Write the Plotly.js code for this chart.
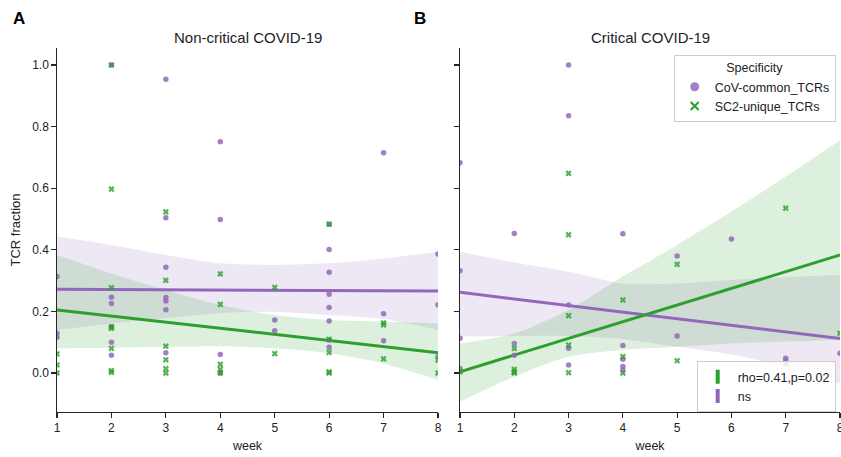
<!DOCTYPE html>
<html><head><meta charset="utf-8">
<script src="https://cdn.plot.ly/plotly-3.0.1.min.js"></script>
<style>html,body{margin:0;padding:0;background:#fff}#chart{width:841px;height:457px}</style>
</head><body><div id="chart"></div>
<script>
// ---------- data ----------
const weeks = [1, 2, 3, 4, 5, 6, 7, 8];
const fitWeeks = [1, 8];
const yTicks = [0, 0.2, 0.4, 0.6, 0.8, 1.0];
const seriesNames = ['CoV-common_TCRs', 'SC2-unique_TCRs'];
const statLabels = ['rho=0.41,p=0.02', 'ns'];
const panelTitles = ['Non-critical COVID-19', 'Critical COVID-19'];
const panelLetters = ['A', 'B'];

// Non-critical COVID-19, CoV-common TCRs
const ncCommonWeek = [1,1,1, 2,2,2,2,2,2, 3,3,3,3,3,3,3, 4,4,4,4, 5,5, 6,6,6,6,6,6,6,6, 7,7,7, 8,8,8];
const ncCommonFrac = [0.313,0.129,0.116, 1.0,0.246,0.226,0.150,0.100,0.058, 0.954,0.504,0.343,0.245,0.234,0.205,0.066, 0.751,0.498,0.060,0.0, 0.172,0.137, 0.483,0.401,0.327,0.256,0.213,0.169,0.107,0.084, 0.715,0.192,0.105, 0.386,0.222,0.053];
// Non-critical COVID-19, SC2-unique TCRs
const ncUniqueWeek = [1,1,1, 2,2,2,2,2,2,2,2, 3,3,3,3,3,3, 4,4,4,4,4, 5,5, 6,6,6,6,6, 7,7,7, 8,8];
const ncUniqueFrac = [0.062,0.026,0.0, 1.0,0.597,0.277,0.150,0.145,0.080,0.008,0.002, 0.523,0.301,0.087,0.043,0.014,0.0, 0.322,0.223,0.028,0.012,0.0, 0.278,0.063, 0.483,0.109,0.067,0.004,0.0, 0.163,0.156,0.046, 0.042,0.0];
// Critical COVID-19, CoV-common TCRs
const crCommonWeek = [1,1,1,1, 2,2,2, 3,3,3,3,3, 4,4,4,4,4, 5,5, 6, 7,7, 8];
const crCommonFrac = [0.683,0.332,0.113,0.015, 0.453,0.096,0.058, 1.0,0.835,0.221,0.080,0.026, 0.452,0.089,0.045,0.021,0.010, 0.380,0.120, 0.435, 0.048,0.040, 0.064];
// Critical COVID-19, SC2-unique TCRs
const crUniqueWeek = [1, 2,2,2,2, 3,3,3,3,3, 4,4,4, 5,5, 7,7, 8];
const crUniqueFrac = [0.004, 0.080,0.012,0.004,0.0, 0.648,0.449,0.186,0.091,0.001, 0.237,0.053,0.0, 0.353,0.040, 0.535,0.029, 0.129];

// Regression fits (values at week 1 and week 8)
const ncCommonFit = [0.272, 0.266];
const ncUniqueFit = [0.205, 0.066];
const crCommonFit = [0.262, 0.112];
const crUniqueFit = [0.004, 0.383];

// 95% confidence bands at each week
const ncCommonUpper = [0.443, 0.416, 0.383, 0.356, 0.351, 0.356, 0.372, 0.394];
const ncCommonLower = [0.140, 0.161, 0.178, 0.194, 0.199, 0.188, 0.175, 0.140];
const ncUniqueUpper = [0.383, 0.323, 0.269, 0.221, 0.188, 0.172, 0.167, 0.161];
const ncUniqueLower = [0.080, 0.082, 0.085, 0.087, 0.080, 0.064, 0.031, -0.023];
const crCommonUpper = [0.394, 0.359, 0.329, 0.291, 0.291, 0.302, 0.311, 0.318];
const crCommonLower = [0.118, 0.120, 0.120, 0.110, 0.085, 0.060, 0.020, -0.034];
const crUniqueUpper = [0.096, 0.128, 0.205, 0.313, 0.416, 0.524, 0.638, 0.756];
const crUniqueLower = [-0.093, -0.012, 0.053, 0.075, 0.085, 0.096, 0.102, 0.107];

// ---------- styles ----------
const PURPLE = '#9467bd';
const GREEN = '#2ca02c';
const PURPLE_BAND = 'rgba(148,103,189,0.16)';
const GREEN_BAND = 'rgba(44,160,44,0.16)';
const FONT = 'Liberation Sans, Arial, sans-serif';
const INK = '#222222';
const AXIS = '#262626';

function band(lower, upper, fill, xa, ya) {
  return [
    {x: weeks, y: lower, xaxis: xa, yaxis: ya, mode: 'lines', line: {width: 0, shape: 'spline', smoothing: 0.8},
     hoverinfo: 'skip', showlegend: false},
    {x: weeks, y: upper, xaxis: xa, yaxis: ya, mode: 'lines', line: {width: 0, shape: 'spline', smoothing: 0.8},
     fill: 'tonexty', fillcolor: fill, hoverinfo: 'skip', showlegend: false}
  ];
}
function fit(vals, color, xa, ya) {
  return {x: fitWeeks, y: vals, xaxis: xa, yaxis: ya, mode: 'lines', line: {color: color, width: 3}, showlegend: false};
}
function pts(wk, fr, kind, xa, ya) {
  const common = kind === 0;
  return {x: wk, y: fr, xaxis: xa, yaxis: ya, mode: 'markers', showlegend: false, name: seriesNames[kind],
    marker: common ? {symbol: 'circle', size: 5.5, color: PURPLE, opacity: 0.85}
                   : {symbol: 'x', size: 5.5, color: GREEN, opacity: 0.8}};
}

const traces = [
  ...band(ncCommonLower, ncCommonUpper, PURPLE_BAND, 'x', 'y'),
  ...band(ncUniqueLower, ncUniqueUpper, GREEN_BAND, 'x', 'y'),
  ...band(crCommonLower, crCommonUpper, PURPLE_BAND, 'x2', 'y2'),
  ...band(crUniqueLower, crUniqueUpper, GREEN_BAND, 'x2', 'y2'),
  fit(ncCommonFit, PURPLE, 'x', 'y'),
  fit(ncUniqueFit, GREEN, 'x', 'y'),
  fit(crCommonFit, PURPLE, 'x2', 'y2'),
  fit(crUniqueFit, GREEN, 'x2', 'y2'),
  pts(ncCommonWeek, ncCommonFrac, 0, 'x', 'y'),
  pts(ncUniqueWeek, ncUniqueFrac, 1, 'x', 'y'),
  pts(crCommonWeek, crCommonFrac, 0, 'x2', 'y2'),
  pts(crUniqueWeek, crUniqueFrac, 1, 'x2', 'y2'),
  // legend entries
  {x: [null], y: [null], xaxis: 'x2', yaxis: 'y2', mode: 'markers', name: seriesNames[0], legend: 'legend',
   marker: {symbol: 'circle', size: 9, color: PURPLE, opacity: 0.85}},
  {x: [null], y: [null], xaxis: 'x2', yaxis: 'y2', mode: 'markers', name: seriesNames[1], legend: 'legend',
   marker: {symbol: 'x-thin-open', size: 8, color: GREEN, line: {color: GREEN, width: 2}}},
  {x: [null], y: [null], xaxis: 'x2', yaxis: 'y2', mode: 'markers', name: statLabels[0], legend: 'legend2',
   marker: {symbol: 'line-ns-open', size: 10, color: GREEN, line: {color: GREEN, width: 4}}},
  {x: [null], y: [null], xaxis: 'x2', yaxis: 'y2', mode: 'markers', name: statLabels[1], legend: 'legend2',
   marker: {symbol: 'line-ns-open', size: 10, color: PURPLE, line: {color: PURPLE, width: 4}}}
];

const axBase = {
  range: [1, 8], tickvals: weeks, showline: true, linecolor: AXIS, linewidth: 1.25,
  ticks: 'outside', ticklen: 4.5, tickwidth: 1.25, tickcolor: AXIS, showgrid: false, zeroline: false,
  ticklabeloverflow: 'allow',
  tickfont: {size: 12, color: INK, family: FONT}
};
const ayBase = {
  range: [-0.1266, 1.0552], tickvals: yTicks, tickformat: '.1f', showline: true, linecolor: AXIS, linewidth: 1.25,
  ticks: 'outside', ticklen: 4.5, tickwidth: 1.25, tickcolor: AXIS, showgrid: false, zeroline: false,
  tickfont: {size: 12, color: INK, family: FONT}
};

const legendBase = {
  xanchor: 'right', bgcolor: 'rgba(255,255,255,0.85)', bordercolor: '#cccccc', borderwidth: 1,
  font: {size: 12.5, color: INK, family: FONT}, tracegroupgap: 0, traceorder: 'normal'
};

const layout = {
  width: 841, height: 457,
  margin: {l: 57, r: 1, t: 48, b: 45},
  paper_bgcolor: '#ffffff', plot_bgcolor: '#ffffff',
  font: {family: FONT, color: INK},
  xaxis: Object.assign({}, axBase, {domain: [0, 0.4866], anchor: 'y',
    title: {text: 'week', font: {size: 12.5, color: INK}, standoff: 7}}),
  yaxis: Object.assign({}, ayBase, {domain: [0, 1], anchor: 'x',
    title: {text: 'TCR fraction', font: {size: 13, color: INK}, standoff: 8}}),
  xaxis2: Object.assign({}, axBase, {domain: [0.5147, 1], anchor: 'y2',
    title: {text: 'week', font: {size: 12.5, color: INK}, standoff: 7}}),
  yaxis2: Object.assign({}, ayBase, {domain: [0, 1], anchor: 'x2', showticklabels: false}),
  legend: Object.assign({}, legendBase, {x: 0.9945, y: 0.981, yanchor: 'top',
    title: {text: 'Specificity', side: 'top center', font: {size: 12.5, color: INK}}}),
  legend2: Object.assign({}, legendBase, {x: 0.9945, y: 0.0, yanchor: 'bottom'}),
  annotations: [
    {text: panelTitles[0], xref: 'paper', yref: 'paper', x: 0.2433, y: 1.030, showarrow: false,
     xanchor: 'center', yanchor: 'middle', font: {size: 15, color: INK}},
    {text: panelTitles[1], xref: 'paper', yref: 'paper', x: 0.7574, y: 1.030, showarrow: false,
     xanchor: 'center', yanchor: 'middle', font: {size: 15, color: INK}},
    {text: '<b>' + panelLetters[0] + '</b>', xref: 'paper', yref: 'paper', x: -0.0485, y: 1.0824, showarrow: false,
     xanchor: 'center', yanchor: 'middle', font: {size: 17, color: '#000'}},
    {text: '<b>' + panelLetters[1] + '</b>', xref: 'paper', yref: 'paper', x: 0.4636, y: 1.0824, showarrow: false,
     xanchor: 'center', yanchor: 'middle', font: {size: 17, color: '#000'}}
  ]
};

Plotly.newPlot('chart', traces, layout, {displayModeBar: false, staticPlot: true});
</script>
</body></html>
